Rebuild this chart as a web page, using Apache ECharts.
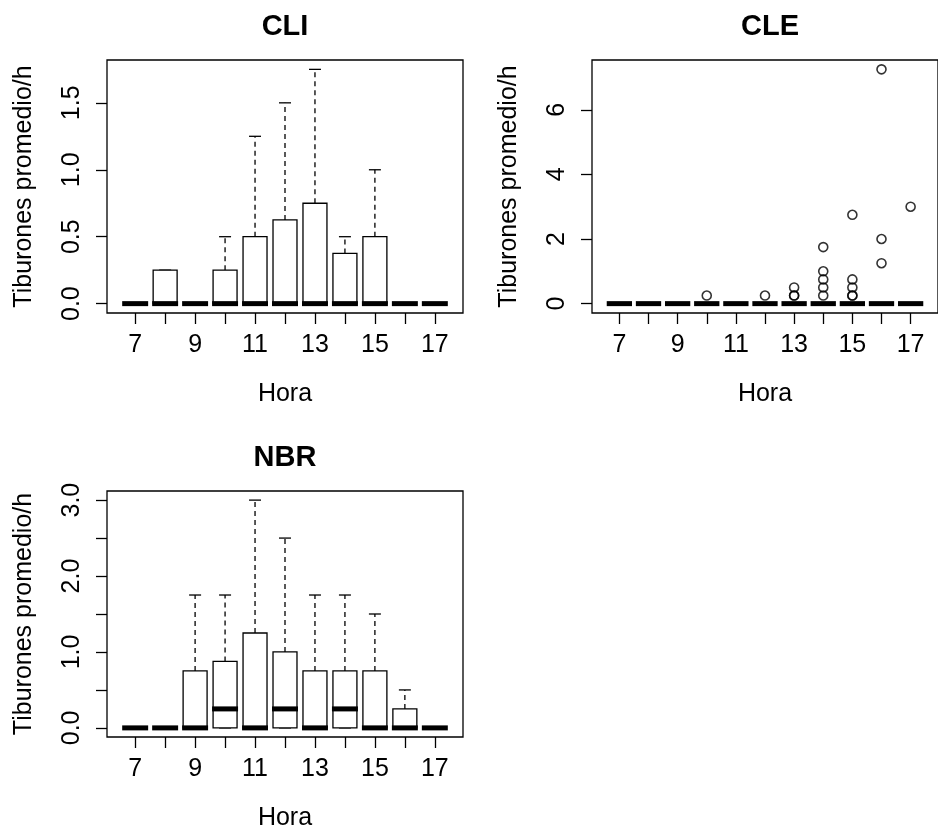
<!DOCTYPE html>
<html><head><meta charset="utf-8">
<script src="https://cdn.jsdelivr.net/npm/echarts@6/dist/echarts.min.js"></script>
<style>html,body{margin:0;padding:0;background:#fff;} #c{width:938px;height:832px;}</style>
</head><body><div id="c"></div>
<script>
// ---- data ----
const hours = [7, 8, 9, 10, 11, 12, 13, 14, 15, 16, 17];
const xTickValues = [7, 8, 9, 10, 11, 12, 13, 14, 15, 16, 17];
const xLabelValues = [7, 9, 11, 13, 15, 17];

const cliQ1     = [0, 0, 0, 0, 0, 0, 0, 0, 0, 0, 0];
const cliMedian = [0, 0, 0, 0, 0, 0, 0, 0, 0, 0, 0];
const cliQ3     = [0, 0.25, 0, 0.25, 0.5, 0.625, 0.75, 0.375, 0.5, 0, 0];
const cliLower  = [0, 0, 0, 0, 0, 0, 0, 0, 0, 0, 0];
const cliUpper  = [0, 0.25, 0, 0.5, 1.25, 1.5, 1.75, 0.5, 1.0, 0, 0];
const cliYTicks = [0, 0.5, 1.0, 1.5];
const cliYLabels = [0, 0.5, 1.0, 1.5];

const cleQ1     = [0, 0, 0, 0, 0, 0, 0, 0, 0, 0, 0];
const cleMedian = [0, 0, 0, 0, 0, 0, 0, 0, 0, 0, 0];
const cleQ3     = [0, 0, 0, 0, 0, 0, 0, 0, 0, 0, 0];
const cleLower  = [0, 0, 0, 0, 0, 0, 0, 0, 0, 0, 0];
const cleUpper  = [0, 0, 0, 0, 0, 0, 0, 0, 0, 0, 0];
const cleOutHour  = [10, 12, 13, 13, 13, 14, 14, 14, 14, 14, 15, 15, 15, 15, 15, 16, 16, 16, 17];
const cleOutValue = [0.25, 0.25, 0.25, 0.25, 0.5, 0.25, 0.5, 0.75, 1.0, 1.75, 0.25, 0.25, 0.5, 0.75, 2.75, 1.25, 2.0, 7.25, 3.0];
const cleYTicks = [0, 2, 4, 6];
const cleYLabels = [0, 2, 4, 6];

const nbrQ1     = [0, 0, 0, 0, 0, 0, 0, 0, 0, 0, 0];
const nbrMedian = [0, 0, 0, 0.25, 0, 0.25, 0, 0.25, 0, 0, 0];
const nbrQ3     = [0, 0, 0.75, 0.875, 1.25, 1.0, 0.75, 0.75, 0.75, 0.25, 0];
const nbrLower  = [0, 0, 0, 0, 0, 0, 0, 0, 0, 0, 0];
const nbrUpper  = [0, 0, 1.75, 1.75, 3.0, 2.5, 1.75, 1.75, 1.5, 0.5, 0];
const nbrYTicks = [0, 0.5, 1.0, 1.5, 2.0, 2.5, 3.0];
const nbrYLabels = [0, 1.0, 2.0, 3.0];

const titles = ['CLI', 'CLE', 'NBR'];
const xName = 'Hora';
const yName = 'Tiburones promedio/h';

// ---- chart ----
const FONT = '"Liberation Sans", Arial, sans-serif';
const INK = '#000';

function rows(q1, med, q3, lo, hi) {
  return hours.map((h, i) => [h, q1[i], med[i], q3[i], lo[i], hi[i]]);
}

function renderBox(params, api) {
  const x = api.value(0), q1 = api.value(1), med = api.value(2), q3 = api.value(3), lo = api.value(4), hi = api.value(5);
  const half = api.size([0.4, 0])[0];
  const staple = half / 2;
  const pQ1 = api.coord([x, q1]), pMed = api.coord([x, med]), pQ3 = api.coord([x, q3]);
  const pLo = api.coord([x, lo]), pHi = api.coord([x, hi]);
  const cx = pQ3[0];
  const thin = { stroke: INK, lineWidth: 1.3, fill: null };
  const ch = [];
  if (hi > q3) ch.push({ type: 'line', shape: { x1: cx, y1: pQ3[1], x2: cx, y2: pHi[1] }, style: Object.assign({}, thin, { lineDash: [5, 4] }) });
  if (lo < q1) ch.push({ type: 'line', shape: { x1: cx, y1: pQ1[1], x2: cx, y2: pLo[1] }, style: Object.assign({}, thin, { lineDash: [5, 4] }) });
  ch.push({ type: 'line', shape: { x1: cx - staple, y1: pHi[1], x2: cx + staple, y2: pHi[1] }, style: thin });
  ch.push({ type: 'line', shape: { x1: cx - staple, y1: pLo[1], x2: cx + staple, y2: pLo[1] }, style: thin });
  ch.push({ type: 'rect', shape: { x: cx - half, y: pQ3[1], width: 2 * half, height: pQ1[1] - pQ3[1] }, style: { fill: '#fff', stroke: INK, lineWidth: 1.3 } });
  ch.push({ type: 'line', shape: { x1: cx - half - 1, y1: pMed[1], x2: cx + half + 1, y2: pMed[1] }, style: { stroke: INK, lineWidth: 5 } });
  return { type: 'group', children: ch };
}

const grids = [
  { left: 107, top: 60, width: 356, height: 253 },
  { left: 592, top: 60, width: 356, height: 253 },
  { left: 107, top: 491, width: 356, height: 252 }
].map(g => Object.assign(g, { show: true, borderColor: INK, borderWidth: 1.3, backgroundColor: 'transparent' }));

function xAxis(gi) {
  return {
    type: 'value', gridIndex: gi, min: 6.06, max: 17.94,
    name: xName, nameLocation: 'middle', nameGap: 69,
    nameTextStyle: { fontFamily: FONT, fontSize: 25, color: INK },
    axisLine: { show: false, onZero: false },
    axisTick: { show: true, inside: false, length: 11, customValues: xTickValues, lineStyle: { color: INK, width: 1.3 } },
    axisLabel: { show: true, customValues: xLabelValues, margin: 20, fontFamily: FONT, fontSize: 25, color: INK },
    splitLine: { show: false }
  };
}
function yAxis(gi, min, max, ticks, labels, dec) {
  return {
    type: 'value', gridIndex: gi, min: min, max: max,
    name: yName, nameLocation: 'middle', nameGap: 70,
    nameTextStyle: { fontFamily: FONT, fontSize: 25, color: INK },
    axisLine: { show: false, onZero: false },
    axisTick: { show: true, inside: false, length: 11, customValues: ticks, lineStyle: { color: INK, width: 1.3 } },
    axisLabel: { show: true, customValues: labels, rotate: 90, margin: 22, fontFamily: FONT, fontSize: 25, color: INK,
      formatter: v => Number(v).toFixed(dec) },
    splitLine: { show: false }
  };
}

const titleCenters = [[285, 12], [770, 12], [285, 443]];

const option = {
  animation: false,
  backgroundColor: '#fff',
  title: titles.map((t, i) => ({
    text: t, left: titleCenters[i][0], top: titleCenters[i][1], textAlign: 'center', padding: 0,
    textStyle: { fontFamily: FONT, fontSize: 29, fontWeight: 'bold', color: INK }
  })),
  grid: grids,
  xAxis: [xAxis(0), xAxis(1), xAxis(2)],
  yAxis: [
    yAxis(0, -0.07, 1.82, cliYTicks, cliYLabels, 1),
    yAxis(1, -0.29, 7.54, cleYTicks, cleYLabels, 0),
    yAxis(2, -0.12, 3.12, nbrYTicks, nbrYLabels, 1)
  ],
  series: [
    { type: 'custom', xAxisIndex: 0, yAxisIndex: 0, renderItem: renderBox, data: rows(cliQ1, cliMedian, cliQ3, cliLower, cliUpper), encode: { x: 0, y: [1, 2, 3, 4, 5] }, clip: false },
    { type: 'custom', xAxisIndex: 1, yAxisIndex: 1, renderItem: renderBox, data: rows(cleQ1, cleMedian, cleQ3, cleLower, cleUpper), encode: { x: 0, y: [1, 2, 3, 4, 5] }, clip: false },
    { type: 'scatter', xAxisIndex: 1, yAxisIndex: 1, data: cleOutHour.map((h, i) => [h, cleOutValue[i]]),
      symbol: 'circle', symbolSize: 9, itemStyle: { color: 'rgba(255,255,255,0)', borderColor: INK, borderWidth: 1.6 } },
    { type: 'custom', xAxisIndex: 2, yAxisIndex: 2, renderItem: renderBox, data: rows(nbrQ1, nbrMedian, nbrQ3, nbrLower, nbrUpper), encode: { x: 0, y: [1, 2, 3, 4, 5] }, clip: false }
  ]
};

const chart = echarts.init(document.getElementById('c'), null, { renderer: 'canvas' });
chart.setOption(option);
</script>
</body></html>
